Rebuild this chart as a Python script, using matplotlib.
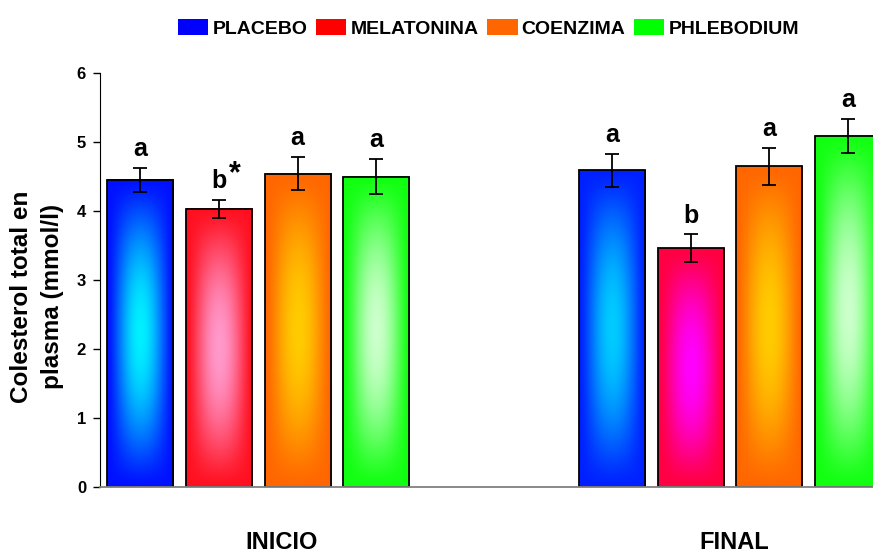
import numpy as np
import matplotlib
matplotlib.use('Agg')
from matplotlib import pyplot as plt
from matplotlib.colors import to_rgb
from matplotlib.patches import Patch

plt.rcParams['font.family'] = ['Liberation Sans', 'DejaVu Sans']
plt.rcParams['font.weight'] = 'bold'

groups = ['INICIO', 'FINAL']
treatments = ['PLACEBO', 'MELATONINA', 'COENZIMA', 'PHLEBODIUM']
legend_colors = ['#0000ff', '#ff0000', '#ff6600', '#00ff00']

inicio_mean = [4.45, 4.03, 4.54, 4.50]
inicio_err = [0.17, 0.13, 0.24, 0.25]
inicio_letters = ['a', 'b', 'a', 'a']
final_mean = [4.59, 3.46, 4.65, 5.09]
final_err = [0.24, 0.20, 0.27, 0.25]
final_letters = ['a', 'b', 'a', 'a']

# (edge colour, centre colour) of each bar's shading
inicio_shade = [('#0010ff', '#00f0ff'), ('#ff1020', '#ff99cc'),
                ('#ff6600', '#ffcc00'), ('#10ff10', '#ccffcc')]
final_shade = [('#0020ff', '#00ccff'), ('#ff0040', '#ff00ff'),
               ('#ff6600', '#ffcc00'), ('#10ff10', '#ccffcc')]

width = 0.84
pos_inicio = np.arange(4)
pos_final = np.arange(4) + 6


def shade(edge, centre, nx=80, ny=160):
    u = np.linspace(-1, 1, nx)
    v = np.linspace(-1, 1, ny)
    U, V = np.meshgrid(u, v)
    t = (1 - U ** 2) ** 1.6 * (1 - V ** 2) ** 1.3
    e = np.array(to_rgb(edge))
    c = np.array(to_rgb(centre))
    return e + (c - e) * t[..., None]


fig = plt.figure(figsize=(8.73, 5.52), dpi=100)
ax = fig.add_axes([100 / 873, 65 / 552, 773 / 873, 414 / 552])

for pos, means, errs, letters, cols in [
        (pos_inicio, inicio_mean, inicio_err, inicio_letters, inicio_shade),
        (pos_final, final_mean, final_err, final_letters, final_shade)]:
    for x, m, e, lab, (ec, cc) in zip(pos, means, errs, letters, cols):
        ax.imshow(shade(ec, cc), extent=[x - width / 2, x + width / 2, 0, m],
                  aspect='auto', origin='lower', zorder=1, interpolation='bilinear')
        ax.bar(x, m, width, facecolor='none', edgecolor='black', lw=1.3, zorder=2)
        ax.errorbar(x, m, yerr=e, fmt='none', ecolor='black', elinewidth=1.3,
                    capsize=5, capthick=1.3, zorder=3)
        ax.annotate(lab, (x, m + e), xytext=(0, 5), textcoords='offset points',
                    ha='center', va='bottom', fontsize=18, fontweight='bold')

# significance mark next to the INICIO melatonina letter
ax.annotate('*', (pos_inicio[1], inicio_mean[1] + inicio_err[1]), xytext=(7, 8),
            textcoords='offset points', ha='left', va='bottom', fontsize=22,
            fontweight='bold')

ax.set_xlim(-0.515, 9.32)
ax.set_ylim(0, 6)
ax.set_yticks(range(7))
ax.set_xticks([])
ax.tick_params(axis='y', direction='out', length=5, width=1, labelsize=12, pad=5)
for t in ax.get_yticklabels():
    t.set_fontweight('bold')
ax.spines['top'].set_visible(False)
ax.spines['right'].set_visible(False)
ax.spines['bottom'].set_color('#808080')
ax.spines['bottom'].set_linewidth(1.3)

ax.set_ylabel('Colesterol total en\nplasma (mmol/l)', fontsize=17.5,
              fontweight='bold', linespacing=1.45)
ax.yaxis.set_label_coords(-0.046, 0.46)

for g, x in zip(groups, [1.8, 7.56]):
    ax.text(x, -0.8, g, ha='center', va='center', fontsize=17, fontweight='bold')

handles = [Patch(facecolor=c, edgecolor='none') for c in legend_colors]
fig.legend(handles, treatments, loc='center', bbox_to_anchor=(0.5596, 0.949),
           ncol=4, frameon=False, handlelength=1.55, handleheight=0.93,
           handletextpad=0.2, columnspacing=0.46,
           prop={'weight': 'bold', 'size': 14})

fig.savefig('out.png', dpi=100)
